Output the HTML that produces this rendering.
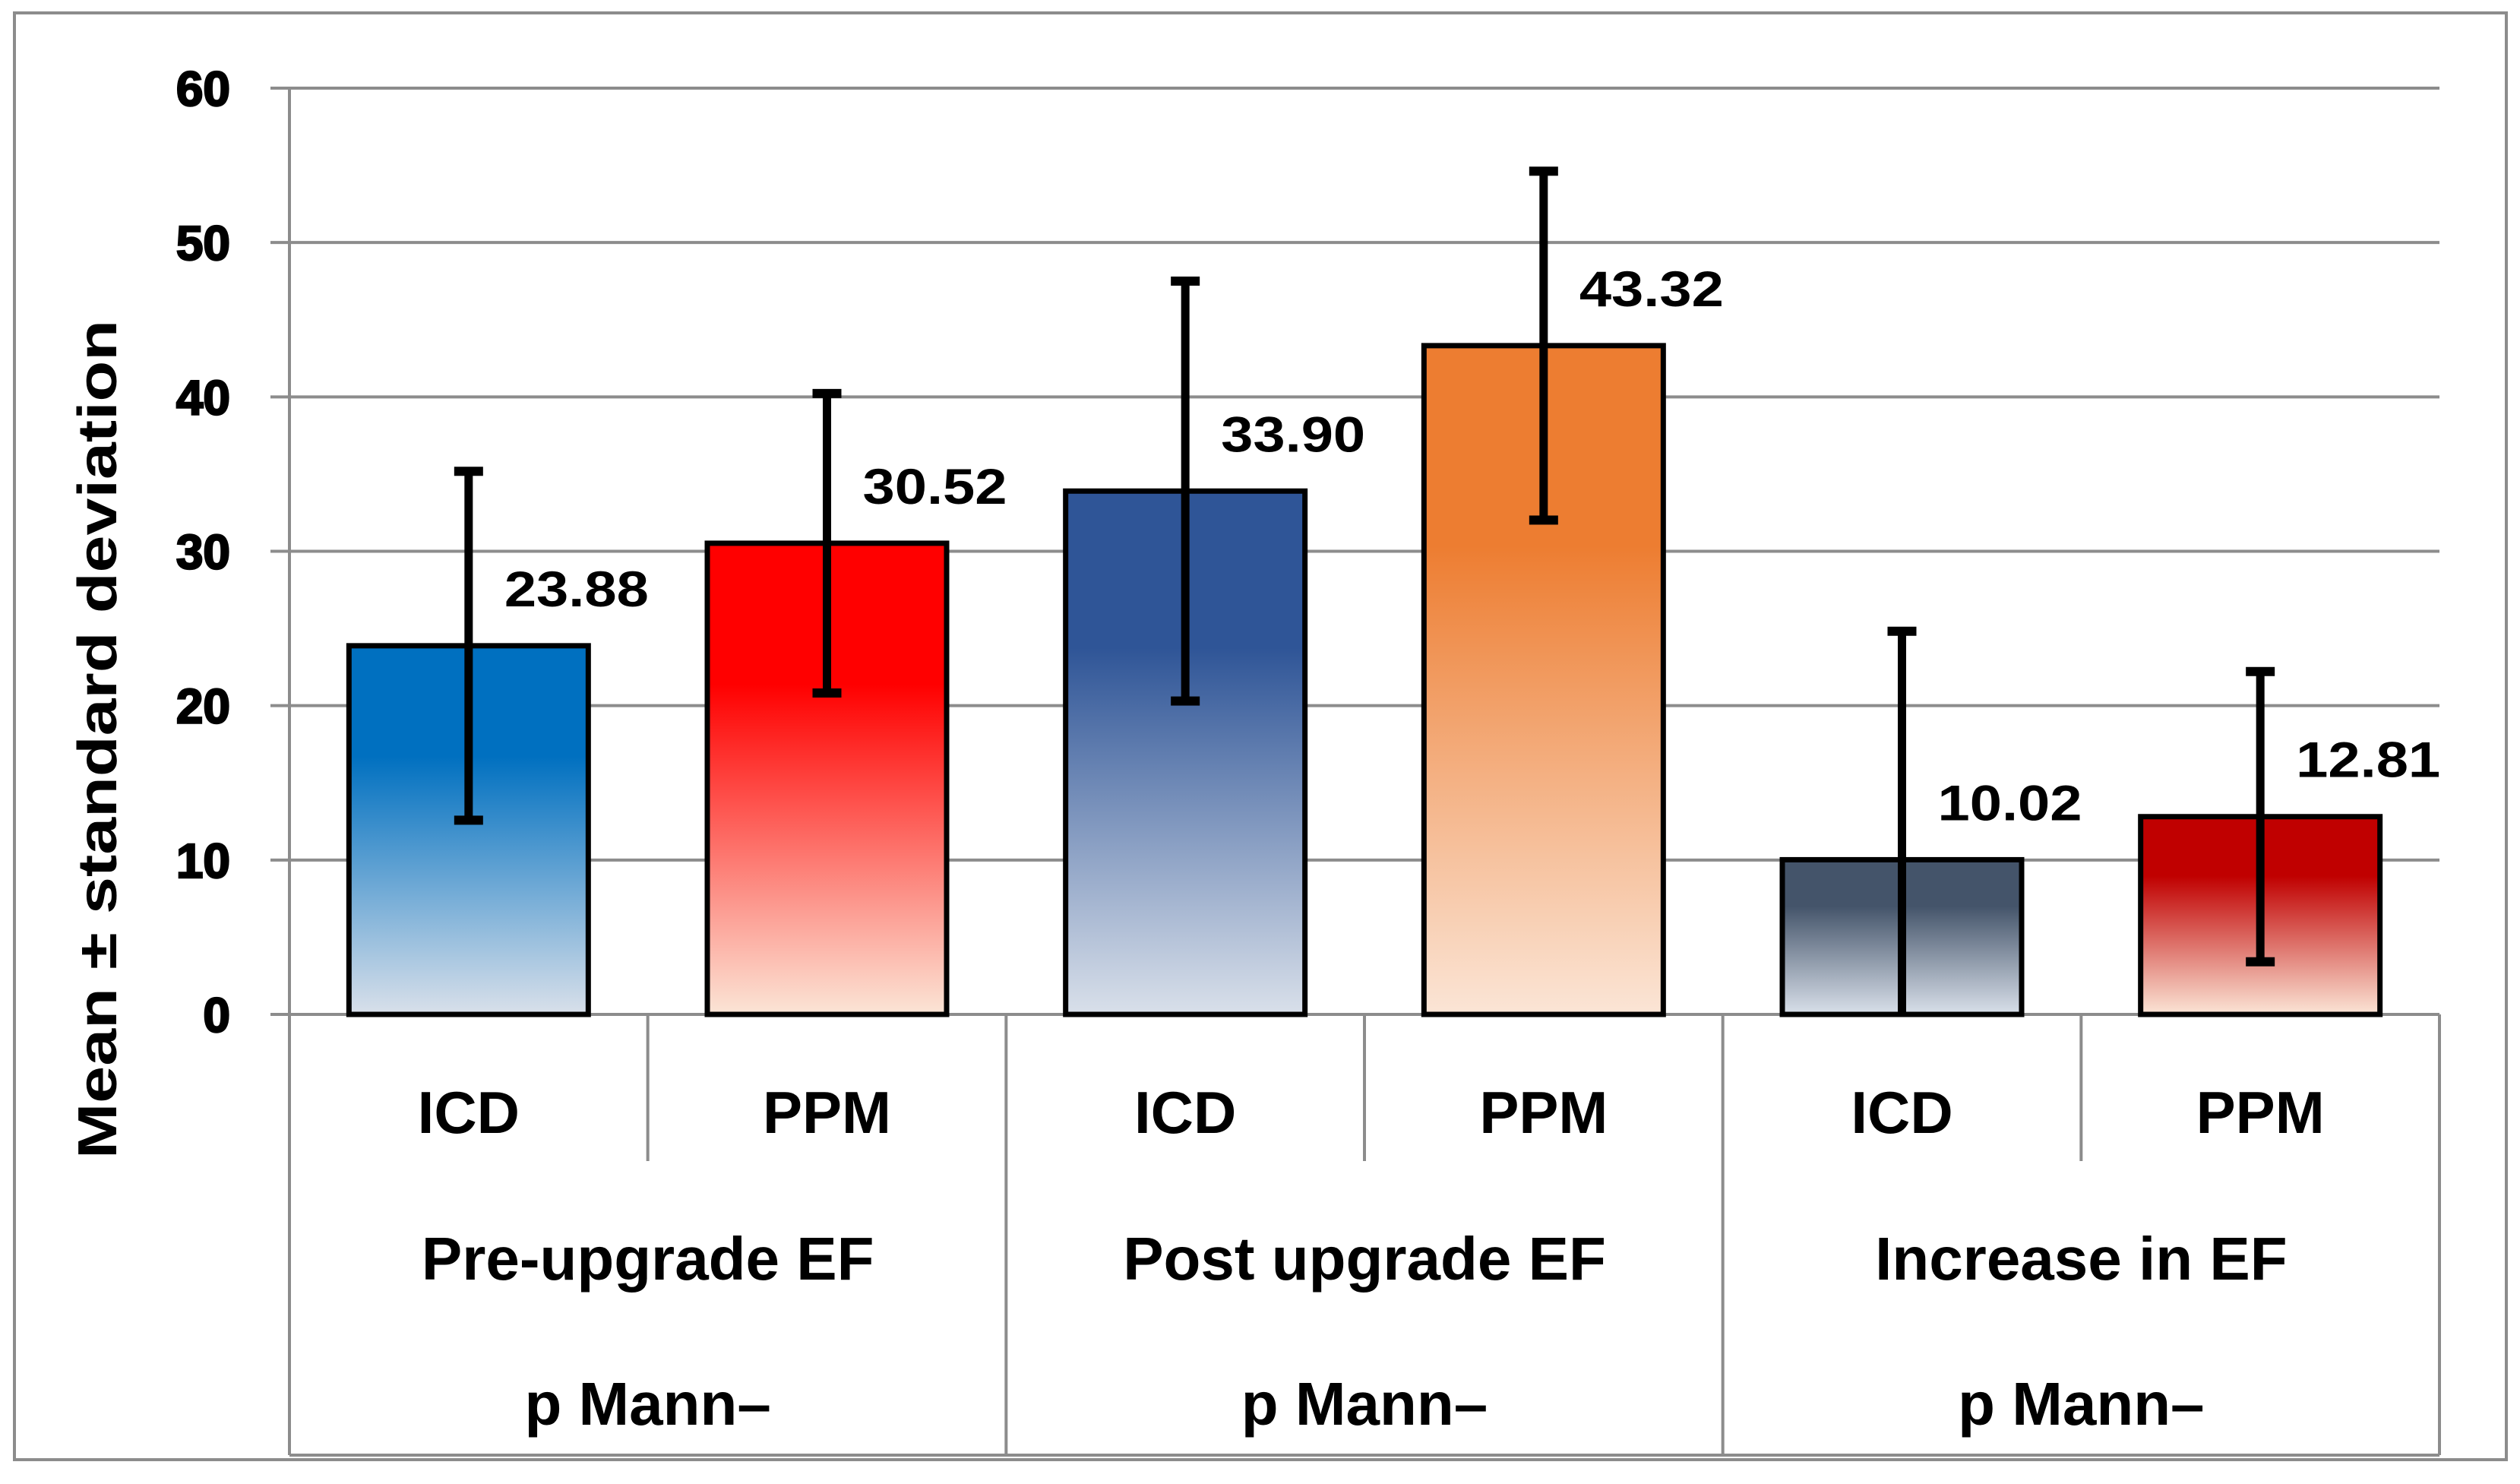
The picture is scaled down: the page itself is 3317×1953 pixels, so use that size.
<!DOCTYPE html>
<html><head><meta charset="utf-8"><style>
html,body{margin:0;padding:0;background:#fff;}
svg{display:block;font-family:"Liberation Sans",Arial,sans-serif;}
</style></head><body>
<svg id="chart" width="3317" height="1953" viewBox="0 0 3317 1953" xmlns="http://www.w3.org/2000/svg">
<defs>
 <linearGradient id="g0" x1="0" y1="0" x2="0" y2="1"><stop offset="0" stop-color="#0070C0"/><stop offset="0.3" stop-color="#0070C0"/><stop offset="1" stop-color="#d9e0ea"/></linearGradient>
 <linearGradient id="g1" x1="0" y1="0" x2="0" y2="1"><stop offset="0" stop-color="#FF0000"/><stop offset="0.3" stop-color="#FF0000"/><stop offset="1" stop-color="#fbe5d6"/></linearGradient>
 <linearGradient id="g2" x1="0" y1="0" x2="0" y2="1"><stop offset="0" stop-color="#2F5597"/><stop offset="0.3" stop-color="#2F5597"/><stop offset="1" stop-color="#d9e0ea"/></linearGradient>
 <linearGradient id="g3" x1="0" y1="0" x2="0" y2="1"><stop offset="0" stop-color="#ED7D31"/><stop offset="0.3" stop-color="#ED7D31"/><stop offset="1" stop-color="#fbe5d6"/></linearGradient>
 <linearGradient id="g4" x1="0" y1="0" x2="0" y2="1"><stop offset="0" stop-color="#44546A"/><stop offset="0.3" stop-color="#44546A"/><stop offset="1" stop-color="#d9e0ea"/></linearGradient>
 <linearGradient id="g5" x1="0" y1="0" x2="0" y2="1"><stop offset="0" stop-color="#C00000"/><stop offset="0.3" stop-color="#C00000"/><stop offset="1" stop-color="#fbe5d6"/></linearGradient>
</defs>
<rect x="19" y="17" width="3280" height="1904" fill="#fff" stroke="#8c8c8c" stroke-width="4"/>
<g id="grid"></g>
<g id="bars"></g>
<g id="labels"></g>
<text transform="translate(153,973) rotate(-90)" text-anchor="middle" font-size="72" font-weight="bold" textLength="1104" lengthAdjust="spacingAndGlyphs">Mean ± standard deviation</text>
</svg>
<script>
const categories = ["ICD","PPM","ICD","PPM","ICD","PPM"];
const groups = ["Pre-upgrade EF","Post upgrade EF","Increase in EF"];
const subLabels = ["p Mann–","p Mann–","p Mann–"];
const means = [23.88,30.52,33.90,43.32,10.02,12.81];
const sds = [11.3,9.7,13.6,11.3,14.8,9.4];
const valueLabels = ["23.88","30.52","33.90","43.32","10.02","12.81"];
const yTicks = [0,10,20,30,40,50,60];

const NS="http://www.w3.org/2000/svg";
const X0=381, X1=3211, Y0=1335, YTOP=116, YMAX=60, AXB=1915;
const cw=(X1-X0)/categories.length;
const y=v=>Y0-(v/YMAX)*(Y0-YTOP);
const xc=i=>X0+cw*(i+0.5);
function mk(tag,attrs,parent,text){const e=document.createElementNS(NS,tag);for(const k in attrs)e.setAttribute(k,attrs[k]);if(text!==undefined)e.textContent=text;document.getElementById(parent).appendChild(e);return e;}

yTicks.forEach(t=>{
  const l=mk('line',{x1:X0-25,x2:X1,y1:y(t),y2:y(t),stroke:'#8c8c8c','stroke-width':4},'grid');
  
  
  const tx=mk('text',{x:303,y:y(t)+23,'text-anchor':'end','font-size':64,'font-weight':'bold',stroke:'#000','stroke-width':2.5},'labels',String(t));
  
  
});
const ax=mk('line',{x1:X0,x2:X0,y1:YTOP,y2:AXB,stroke:'#8c8c8c','stroke-width':4},'grid');


const rx=mk('line',{x1:X1,x2:X1,y1:Y0,y2:AXB,stroke:'#8c8c8c','stroke-width':4},'grid');


const bx=mk('line',{x1:X0,x2:X1,y1:AXB,y2:AXB,stroke:'#8c8c8c','stroke-width':4},'grid');


for(let i=1;i<categories.length;i++){
  const xx=X0+cw*i;
  const d=mk('line',{x1:xx,x2:xx,y1:Y0,y2:(i%2===0)?AXB:1528,stroke:'#8c8c8c','stroke-width':4},'grid');
  
  
}
const bw=315;
means.forEach((m,i)=>{
  const r=mk('rect',{x:xc(i)-bw/2,y:y(m),width:bw,height:Y0-y(m),fill:'url(#g'+i+')',stroke:'#000','stroke-width':7},'bars');
  
  
  const lo=Math.max(0,m-sds[i]), hi=m+sds[i];
  const e=mk('line',{x1:xc(i),x2:xc(i),y1:y(lo),y2:y(hi),stroke:'#000','stroke-width':11},'bars');
  
  
  [hi, m-sds[i]].forEach(v=>{
    if(v<0) return;
    const c=mk('rect',{x:xc(i)-19,y:y(v)-6,width:38,height:12,fill:'#000'},'bars');
    
    
  });
  const vl=mk('text',{x:xc(i)+47,y:y(m)-52,'font-size':66,'font-weight':'bold'},'labels',valueLabels[i]);
  vl.setAttribute('textLength','190');
  vl.setAttribute('lengthAdjust','spacingAndGlyphs');
  
  
  const cl=mk('text',{x:xc(i),y:1491,'text-anchor':'middle','font-size':78,'font-weight':'bold'},'labels',categories[i]);
  
  
});
groups.forEach((g,k)=>{
  const cx=X0+cw*(2*k+1);
  const gl=mk('text',{x:cx,y:1684,'text-anchor':'middle','font-size':80,'font-weight':'bold'},'labels',g);
  
  
  const sl=mk('text',{x:cx,y:1875,'text-anchor':'middle','font-size':80,'font-weight':'bold'},'labels',subLabels[k]);
  
  
});
</script>
</body></html>
